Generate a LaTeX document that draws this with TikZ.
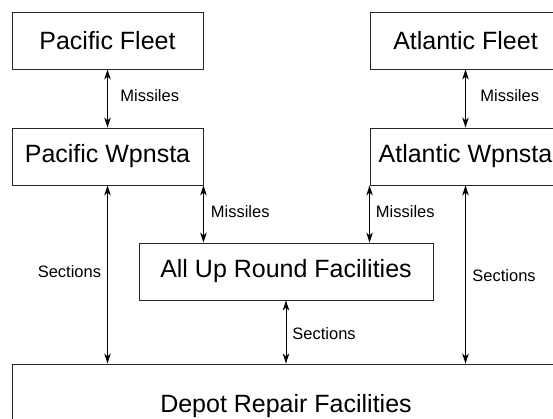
\documentclass[tikz,border=0pt]{standalone}
\usepackage{fontspec}
\setmainfont{Liberation Sans}
\usetikzlibrary{arrows.meta}
\begin{document}
\begin{tikzpicture}[x=1pt,y=-1pt,
  box/.style={draw=black!85, line width=0.9pt, rectangle, inner sep=0pt, font=\fontsize{25}{28}\selectfont},
  link/.style={draw=black, line width=0.8pt, {Stealth[length=10pt,width=6.5pt,inset=3pt]}-{Stealth[length=10pt,width=6.5pt,inset=3pt]}},
  lbl/.style={inner sep=0pt, font=\fontsize{16.5}{18}\selectfont}]
\useasboundingbox (0,0) rectangle (553,419);
\fill[white] (0,0) rectangle (553,419);
\node[box, minimum width=191pt, minimum height=57pt] (pf) at (107.5,40.5) {Pacific Fleet};
\node[box, minimum width=191pt, minimum height=57pt] (pw) at (107.5,156.5) {Pacific Wpnsta};
\node[box, minimum width=191pt, minimum height=57pt] (af) at (465.5,40.5) {Atlantic Fleet};
\node[box, minimum width=191pt, minimum height=57pt] (aw) at (465.5,156.5) {Atlantic Wpnsta};
\node[box, minimum width=294pt, minimum height=57pt] (aur) at (286,271.5) {All Up Round Facilities};
\node[box, minimum width=548pt, minimum height=84pt] (dep) at (286,406) {Depot Repair Facilities};
\draw[link] (pf.south) -- node[lbl, right, xshift=12.5pt, yshift=3pt] {Missiles} (pw.north);
\draw[link] (af.south) -- node[lbl, right, xshift=14.5pt, yshift=3pt] {Missiles} (aw.north);
\draw[link] (pw.south) -- node[lbl, left, xshift=-6pt, yshift=3pt] {Sections} (pw.south |- dep.north);
\draw[link] (pw.south east) -- node[lbl, right, xshift=7pt, yshift=2pt] {Missiles} (pw.south east |- aur.north);
\draw[link] (aw.south west) -- node[lbl, right, xshift=6pt, yshift=2pt] {Missiles} (aw.south west |- aur.north);
\draw[link] (aw.south) -- node[lbl, right, xshift=6.5pt, yshift=-1.5pt] {Sections} (aw.south |- dep.north);
\draw[link] (aur.south) -- node[lbl, right, xshift=6pt, yshift=-2pt] {Sections} (aur.south |- dep.north);
\end{tikzpicture}
\end{document}
